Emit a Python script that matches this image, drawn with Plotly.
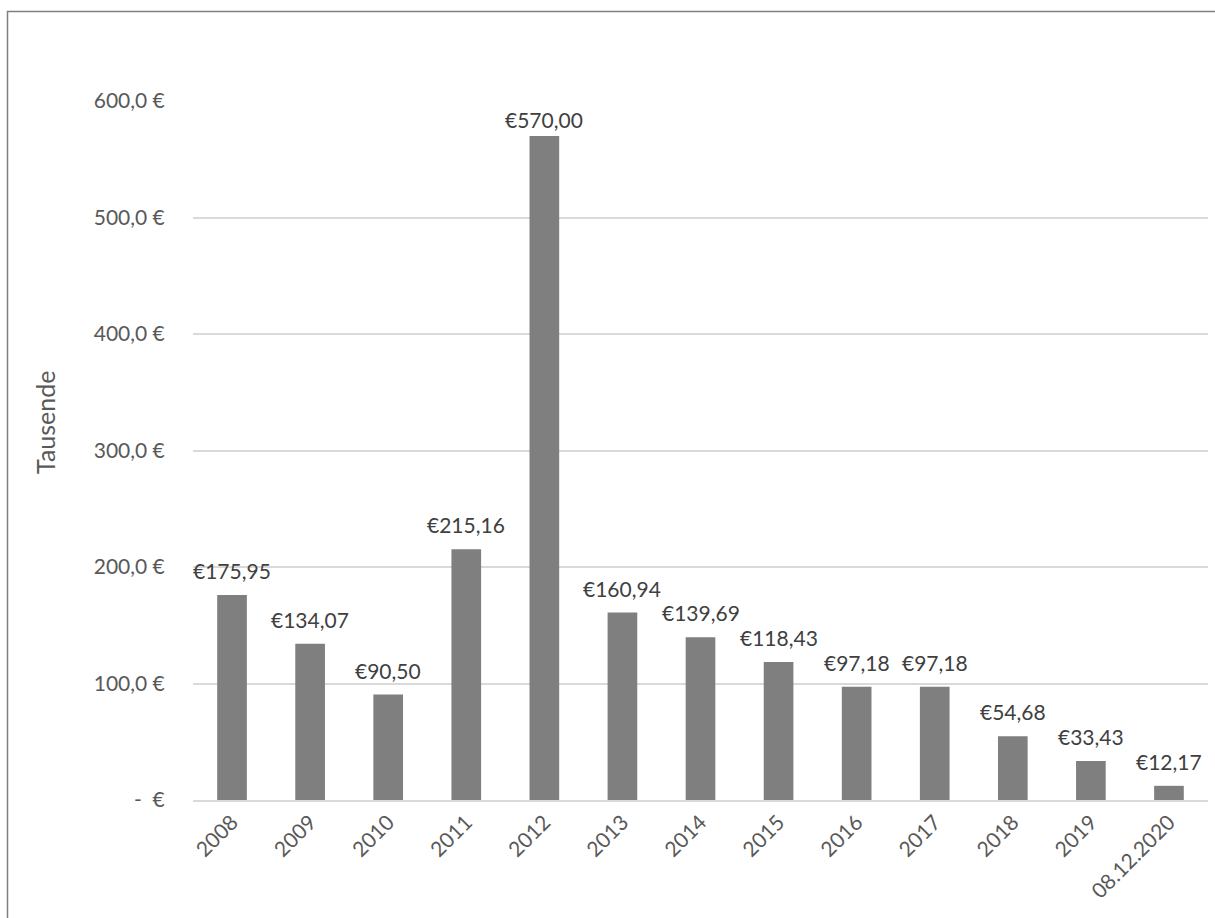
import plotly.graph_objects as go

categories = ["2008", "2009", "2010", "2011", "2012", "2013", "2014", "2015",
              "2016", "2017", "2018", "2019", "08.12.2020"]
values = [175.95, 134.07, 90.50, 215.16, 570.00, 160.94, 139.69, 118.43,
          97.18, 97.18, 54.68, 33.43, 12.17]
y_tickvals = [0, 100, 200, 300, 400, 500, 600]
y_ticktext = ["-  €", "100,0 €", "200,0 €", "300,0 €", "400,0 €", "500,0 €", "600,0 €"]
y_title = "Tausende"

labels = ["€" + f"{v:.2f}".replace(".", ",") for v in values]

FONT = "Lato"
W, H = 1215, 918
L, R, T, B = 193, 7, 101, 118
pw, ph = W - L - R, H - T - B
YMAX = 600

fig = go.Figure(go.Bar(
    x=categories, y=values, cliponaxis=False,
    marker=dict(color="#7f7f7f", line=dict(width=0)),
))

def px_to_paper_x(px):
    return (px - L) / pw

def px_to_paper_y(py):
    return (H - B - py) / ph

# data labels: fixed offset above bars, clamped so they stay inside the chart top
# (x given as category index, since category names look numeric)
annotations = []
for i, (v, lab) in enumerate(zip(values, labels)):
    bar_top_px = T + (YMAX - v) * ph / YMAX
    shift = max(0, min(10, bar_top_px - 134))
    annotations.append(dict(x=i, y=v, xref="x", yref="y", text=lab, showarrow=False,
                            yanchor="bottom", xanchor="center", yshift=shift,
                            font=dict(family=FONT, size=21, color="#404040")))

annotations.append(dict(text=y_title, textangle=-90, showarrow=False,
                        xref="paper", yref="paper",
                        x=px_to_paper_x(45), y=px_to_paper_y(423),
                        xanchor="center", yanchor="middle",
                        font=dict(family=FONT, size=25, color="#595959")))

fig.update_layout(
    width=W, height=H,
    margin=dict(l=L, r=R, t=T, b=B),
    paper_bgcolor="white", plot_bgcolor="white",
    bargap=0.62, showlegend=False,
    font=dict(family=FONT, size=21, color="#595959"),
    xaxis=dict(type="category", categoryorder="array", categoryarray=categories,
               range=[-0.5, len(categories) - 0.5],
               tickangle=-45, showgrid=False, showline=True, linecolor="#d9d9d9",
               linewidth=1.5, ticks="", tickfont=dict(size=21, color="#595959")),
    yaxis=dict(range=[0, YMAX], tickvals=y_tickvals, ticktext=y_ticktext,
               showgrid=True, gridcolor="#d9d9d9", gridwidth=1.5, zeroline=False,
               showline=False, ticks="outside", ticklen=23, tickcolor="rgba(0,0,0,0)",
               tickfont=dict(size=21, color="#595959")),
    annotations=annotations,
    shapes=[dict(type="rect", xref="paper", yref="paper",
                 x0=px_to_paper_x(7.5), x1=px_to_paper_x(1225),
                 y0=px_to_paper_y(930), y1=px_to_paper_y(11.5),
                 line=dict(color="#7f7f7f", width=1.5), fillcolor="rgba(0,0,0,0)")],
)

fig.write_html("out.html", config={"displayModeBar": False},
               post_script="document.body.style.margin='0';document.body.style.overflow='hidden';")
